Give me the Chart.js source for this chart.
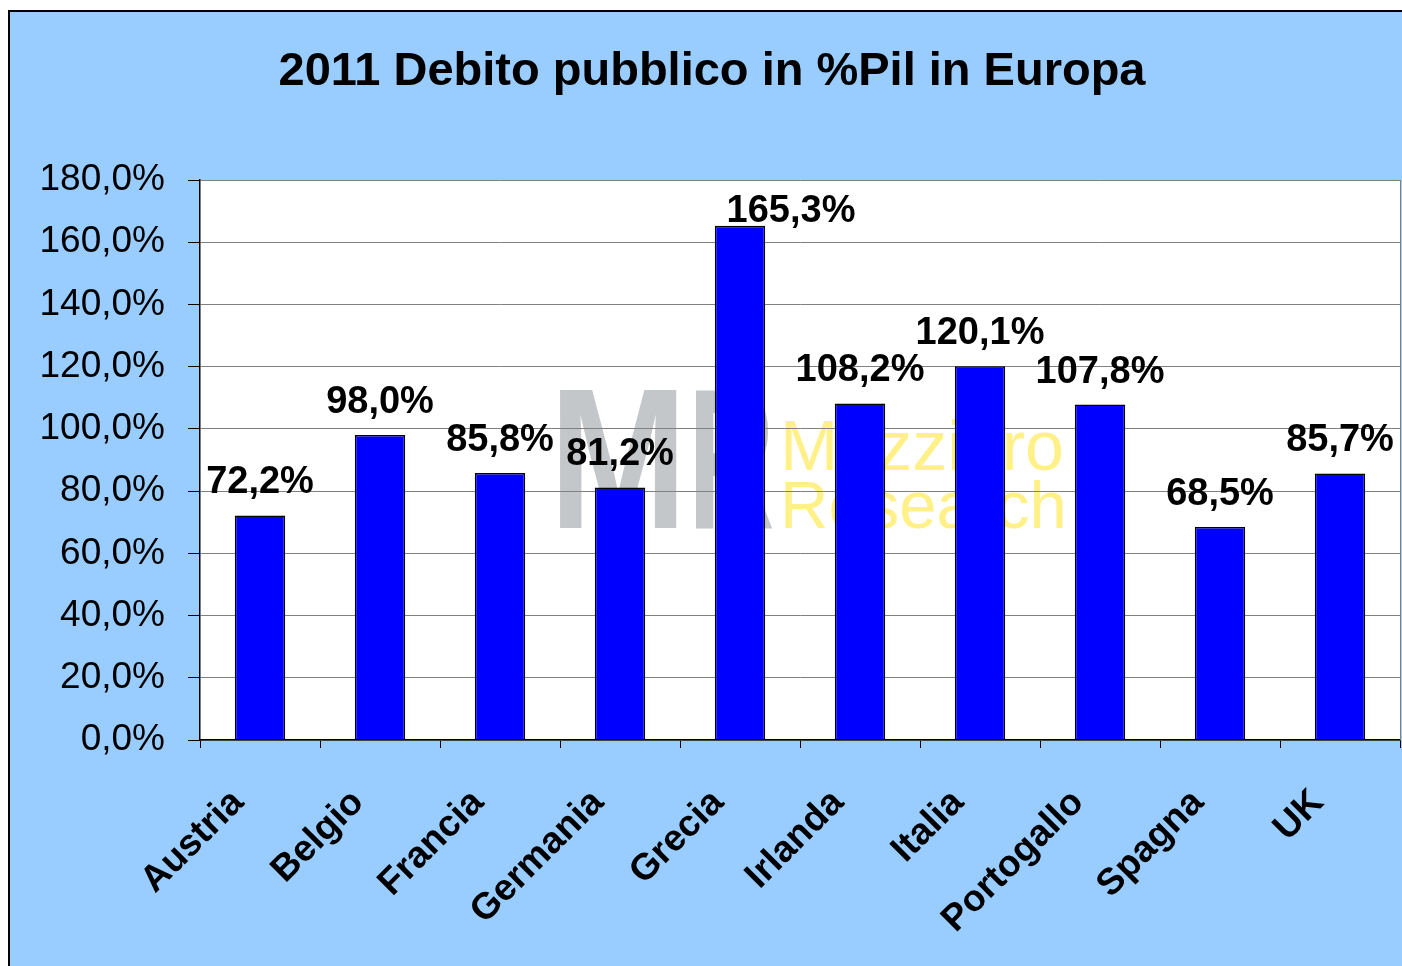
<!DOCTYPE html>
<html>
<head>
<meta charset="utf-8">
<script src="https://cdn.jsdelivr.net/npm/chart.js@4.4.0/dist/chart.umd.min.js"></script>
<style>
  html, body { margin: 0; padding: 0; background: #fff; }
  #wrap { width: 1402px; height: 966px; }
</style>
</head>
<body>
<div id="wrap"><canvas id="myChart" width="1402" height="966"></canvas></div>
<script>
// dati 2011, debito pubblico in % del Pil
var paesi = ['Austria', 'Belgio', 'Francia', 'Germania', 'Grecia', 'Irlanda', 'Italia', 'Portogallo', 'Spagna', 'UK'];
var debito = [72.2, 98.0, 85.8, 81.2, 165.3, 108.2, 120.1, 107.8, 68.5, 85.7];
var titolo = '2011 Debito pubblico in %Pil in Europa';
var yMin = 0, yMax = 180, yStep = 20;

var FONT = '"Liberation Sans", Arial, sans-serif';

function fmt(v) {
    return v.toFixed(1).replace('.', ',') + '%';
}

// sfondo, titolo e watermark
var sfondo = {
    id: 'sfondo',
    beforeDraw: function (chart) {
        var ctx = chart.ctx, a = chart.chartArea;
        ctx.save();
        ctx.fillStyle = '#99CCFF';
        ctx.fillRect(9, 11, chart.width - 9, chart.height - 11);
        ctx.strokeStyle = '#000';
        ctx.lineWidth = 2;
        ctx.beginPath();
        ctx.moveTo(9, chart.height);
        ctx.lineTo(9, 11);
        ctx.lineTo(chart.width, 11);
        ctx.stroke();

        ctx.fillStyle = '#fff';
        ctx.fillRect(a.left, a.top, a.right - a.left, a.bottom - a.top);

        // watermark
        ctx.fillStyle = '#C3C7CA';
        ctx.font = 'bold 200px ' + FONT;
        ctx.textBaseline = 'alphabetic';
        ctx.textAlign = 'left';
        ctx.save();
        ctx.translate(549, 528);
        ctx.scale(0.83, 1);
        ctx.fillText('M', 0, 0);
        ctx.restore();
        ctx.save();
        ctx.translate(688, 528);
        ctx.scale(0.6, 1);
        ctx.fillText('R', 0, 0);
        ctx.restore();
        ctx.fillStyle = '#FFF088';
        ctx.font = '70px ' + FONT;
        ctx.fillText('Mazziero', 780, 470);
        ctx.font = '67px ' + FONT;
        ctx.fillText('Research', 780, 528);

        // titolo
        ctx.fillStyle = '#000';
        ctx.font = 'bold 47px ' + FONT;
        ctx.textAlign = 'center';
        ctx.fillText(titolo, 712, 85);
        ctx.restore();
    },
    afterDraw: function (chart) {
        var ctx = chart.ctx, a = chart.chartArea;
        ctx.save();
        ctx.strokeStyle = '#808080';
        ctx.lineWidth = 1;
        ctx.beginPath();
        ctx.moveTo(a.right + 0.5, a.top);
        ctx.lineTo(a.right + 0.5, a.bottom);
        ctx.stroke();
        ctx.restore();
    }
};

// etichette sopra le barre
var etichette = {
    id: 'etichette',
    afterDatasetsDraw: function (chart) {
        var ctx = chart.ctx, a = chart.chartArea;
        var meta = chart.getDatasetMeta(0);
        ctx.save();
        ctx.fillStyle = '#000';
        ctx.font = 'bold 38px ' + FONT;
        ctx.textAlign = 'center';
        ctx.textBaseline = 'alphabetic';
        meta.data.forEach(function (bar, i) {
            var y = bar.y - 22, x = bar.x;
            // se non entra sopra la barra, spostala a destra come in Excel
            if (y < a.top + 42) {
                y = a.top + 42;
                x += 51;
            }
            ctx.fillText(fmt(debito[i]), x, y);
        });
        ctx.restore();
    }
};

var ctx = document.getElementById('myChart').getContext('2d');
var chart = new Chart(ctx, {
    type: 'bar',
    data: {
        labels: paesi,
        datasets: [{
            label: 'Debito/Pil',
            data: debito,
            backgroundColor: '#0000FF',
            borderColor: '#000',
            borderWidth: 1.5,
            barPercentage: 0.84,
            categoryPercentage: 0.5
        }]
    },
    options: {
        responsive: false,
        animation: false,
        layout: { padding: { left: 10, right: 2, top: 180, bottom: 0 } },
        plugins: {
            legend: { display: false },
            title: { display: false },
            tooltip: { enabled: false }
        },
        scales: {
            x: {
                afterFit: function (s) {
                    s.height = 226;
                    s.paddingLeft = 0;
                    s.paddingRight = 0;
                },
                grid: {
                    drawOnChartArea: false,
                    offset: true,
                    tickLength: 8,
                    tickColor: '#000'
                },
                border: { color: '#000', width: 1.5 },
                ticks: {
                    minRotation: 45,
                    maxRotation: 45,
                    padding: 33,
                    labelOffset: -22,
                    color: '#000',
                    font: { family: FONT, size: 37, weight: 'bold' }
                }
            },
            y: {
                min: yMin,
                max: yMax,
                afterFit: function (s) { s.width = 190; },
                grid: {
                    color: '#808080',
                    lineWidth: 1,
                    tickLength: 12,
                    tickColor: '#000'
                },
                border: { color: '#000', width: 1.5 },
                ticks: {
                    stepSize: yStep,
                    padding: 23,
                    color: '#000',
                    font: { family: FONT, size: 37 },
                    callback: function (v) { return fmt(v); }
                }
            }
        }
    },
    plugins: [sfondo, etichette]
});
</script>
</body>
</html>
